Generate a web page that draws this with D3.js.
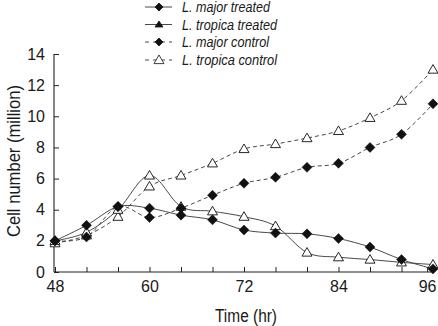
<!DOCTYPE html>
<html><head><meta charset="utf-8">
<script src="https://cdn.jsdelivr.net/npm/d3@7"></script>
<style>body{margin:0;background:#fff}svg{display:block}</style>
</head><body>
<script>
const hours = [48,52,56,60,64,68,72,76,80,84,88,92,96];
const majorTreated   = [2.0,3.0,4.2,4.1,3.65,3.35,2.7,2.5,2.45,2.15,1.6,0.8,0.2];
const tropicaTreated = [2.0,2.55,4.0,6.2,4.2,3.9,3.55,2.95,1.25,0.95,0.8,0.62,0.48];
const majorControl   = [2.0,2.25,4.2,3.5,4.1,4.93,5.7,6.08,6.72,6.98,8.0,8.84,10.8];
const tropicaControl = [1.85,2.35,3.55,5.5,6.2,6.98,7.9,8.22,8.6,9.06,9.9,11.0,13.0];
const seriesNames = ["L. major treated","L. tropica treated","L. major control","L. tropica control"];
const yTicks = [0,2,4,6,8,10,12,14];
const xTickValues = [48,52,56,60,64,68,72,76,80,84,88,92,95.25];
const xTickLabels = ["48","","","60","","","72","","","84","","","96"];

const W=438,H=326;
const svg=d3.select("body").append("svg").attr("width",W).attr("height",H);
const x=d3.scaleLinear().domain([48,96]).range([55,433]);
const y=d3.scaleLinear().domain([0,14]).range([272,54]);
const font="Liberation Sans, Arial, Helvetica, sans-serif";

// axes
const yAx=svg.append("g").attr("transform","translate(54,0)")
  .call(d3.axisLeft(y).tickValues(yTicks).tickSizeInner(-5).tickSizeOuter(0).tickPadding(9));
const xAx=svg.append("g").attr("transform","translate(0,272)")
  .call(d3.axisBottom(x).tickValues(xTickValues).tickFormat((d,i)=>xTickLabels[i]).tickSizeInner(-5).tickSizeOuter(0).tickPadding(10));
[yAx,xAx].forEach(g=>{
  g.selectAll("path.domain").attr("stroke","#222").attr("stroke-width",1.1);
  g.selectAll(".tick line").attr("stroke","#222");
  g.selectAll("text").attr("font-family",font).attr("font-size",16).attr("fill","#1a1a1a");
});
yAx.select("path.domain").attr("d","M0,272V54");
xAx.select("path.domain").attr("d","M54,0H433");
xAx.selectAll("text").attr("dy","0.71em").attr("y",9);

// axis titles
svg.append("text").attr("transform","translate(20,161) rotate(-90)").attr("text-anchor","middle")
  .attr("font-family",font).attr("font-size",17.5).attr("fill","#1a1a1a")
  .attr("textLength",152).attr("lengthAdjust","spacingAndGlyphs").text("Cell number (million)");
svg.append("text").attr("x",246).attr("y",322).attr("text-anchor","middle")
  .attr("font-family",font).attr("font-size",17.5).attr("fill","#1a1a1a")
  .attr("textLength",62).attr("lengthAdjust","spacingAndGlyphs").text("Time (hr)");

const line=d3.line().x((d,i)=>x(hours[i])).y(d=>y(d)).curve(d3.curveCatmullRom.alpha(0));
const series=[
  {v:tropicaControl,dash:"4,3",m:"tri",fill:"#fff"},
  {v:tropicaTreated,dash:null,m:"tri",fill:"#fff"},
  {v:majorControl,dash:"4,3",m:"dia",fill:"#111"},
  {v:majorTreated,dash:null,m:"dia",fill:"#111"}
];
const diaPath="M0,-5L5,0L0,5L-5,0Z";
const triPath="M0,-5L5,3.6L-5,3.6Z";
series.forEach(s=>{
  svg.append("path").attr("d",line(s.v)).attr("fill","none").attr("stroke","#333")
    .attr("stroke-width",0.9).attr("stroke-dasharray",s.dash);
});
series.forEach(s=>{
  svg.append("g").selectAll("path").data(s.v).join("path")
    .attr("transform",(d,i)=>`translate(${x(hours[i])},${y(d)})`)
    .attr("d",s.m==="dia"?diaPath:triPath)
    .attr("fill",s.fill).attr("stroke","#111").attr("stroke-width",s.m==="dia"?0.5:0.9);
});

// legend
const legRows=[7,24.5,42,60];
const legDash=[null,null,"4,4","4,4"];
const legMark=["dia","tri","dia","tri"];
const legFill=["#111","#111","#111","#fff"];
const legLen=[88,95,87,95];
seriesNames.forEach((n,i)=>{
  const g=svg.append("g").attr("transform",`translate(0,${legRows[i]})`);
  g.append("line").attr("x1",145).attr("x2",172).attr("stroke","#333").attr("stroke-width",0.9)
    .attr("stroke-dasharray",legDash[i]);
  g.append("path").attr("transform","translate(159,0)")
    .attr("d",legMark[i]==="dia"?"M0,-4L4,0L0,4L-4,0Z":(legFill[i]==="#111"?"M0,-3.5L4,2.5L-4,2.5Z":triPath))
    .attr("fill",legFill[i]).attr("stroke","#111").attr("stroke-width",0.8);
  g.append("text").attr("x",182).attr("y",5).attr("font-family",font).attr("font-style","italic")
    .attr("font-size",14.5).attr("fill","#1a1a1a").attr("textLength",legLen[i]).attr("lengthAdjust","spacingAndGlyphs").text(n);
});
</script>
</body></html>
